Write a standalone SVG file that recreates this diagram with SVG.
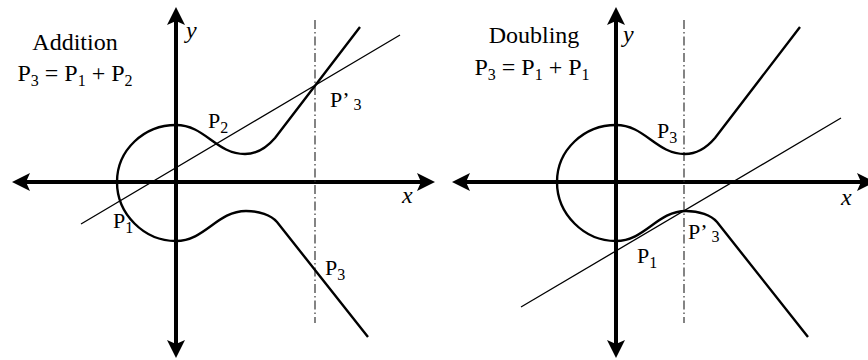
<svg xmlns="http://www.w3.org/2000/svg" xmlns:xlink="http://www.w3.org/1999/xlink" width="868" height="360" viewBox="0 0 868 360">
<style>
.axis{stroke:#000;stroke-width:4;fill:none;marker-start:url(#ah);marker-end:url(#ah)}
.curve{stroke:#000;stroke-width:2.4;fill:none;stroke-linejoin:round}
.line{stroke:#000;stroke-width:1.3;fill:none}
.dd{stroke:#333;stroke-width:1.2;fill:none;stroke-dasharray:9 3 1.5 3}
.title{font-size:24px;text-anchor:middle}
.lab{font-size:22px}
.var{font-size:24px;font-style:italic}
.sub{font-size:16px}
</style>
<defs>
<marker id="ah" viewBox="0 -10 19 20" refX="4" refY="0" markerWidth="19" markerHeight="20" markerUnits="userSpaceOnUse" orient="auto-start-reverse">
<path d="M18,0 L0,-9 L4,0 L0,9 Z" fill="#000"/>
</marker>
<path id="curve" d="M117,182 C117,150 144,125 176,125 C205,125 216,154 245,154 C258,154 269,145 275,138 L360,27 M117,182 C117,214 144,241 176,241 C205,241 217,211 246,211 C259,211 271,215 277,222 L368,337"/>
</defs>

<g id="addition" font-family="'Liberation Serif', 'DejaVu Serif', serif" fill="#000">
<line class="axis" x1="176" y1="344" x2="176" y2="21"/>
<line class="axis" x1="421" y1="182" x2="26" y2="182"/>
<line class="dd" x1="315" y1="20" x2="315" y2="323"/>
<use href="#curve" class="curve"/>
<line class="line" x1="81" y1="224" x2="400" y2="35"/>
<text class="title" x="75" y="50">Addition</text>
<text class="title" x="75" y="81">P<tspan class="sub" dy="5">3</tspan><tspan dy="-5"> = P</tspan><tspan class="sub" dy="5">1</tspan><tspan dy="-5"> + P</tspan><tspan class="sub" dy="5">2</tspan></text>
<text class="var" x="186" y="38">y</text>
<text class="var" x="402" y="203">x</text>
<text class="lab" x="208" y="128">P<tspan class="sub" dy="5">2</tspan></text>
<text class="lab" x="330" y="107">P’<tspan class="sub" dx="4" dy="3">3</tspan></text>
<text class="lab" x="113" y="228">P<tspan class="sub" dy="5">1</tspan></text>
<text class="lab" x="325" y="275">P<tspan class="sub" dy="5">3</tspan></text>
</g>

<g id="doubling" font-family="'Liberation Serif', 'DejaVu Serif', serif" fill="#000">
<line class="axis" x1="616" y1="344" x2="616" y2="21"/>
<line class="axis" x1="861" y1="182" x2="466" y2="182"/>
<line class="dd" x1="684" y1="20" x2="684" y2="323"/>
<use href="#curve" class="curve" x="440"/>
<line class="line" x1="521" y1="307" x2="841" y2="118"/>
<text class="title" x="534" y="43">Doubling</text>
<text class="title" x="532" y="75">P<tspan class="sub" dy="5">3</tspan><tspan dy="-5"> = P</tspan><tspan class="sub" dy="5">1</tspan><tspan dy="-5"> + P</tspan><tspan class="sub" dy="5">1</tspan></text>
<text class="var" x="623" y="42">y</text>
<text class="var" x="841" y="205">x</text>
<text class="lab" x="657" y="138">P<tspan class="sub" dy="5">3</tspan></text>
<text class="lab" x="688" y="239">P’<tspan class="sub" dx="4" dy="3">3</tspan></text>
<text class="lab" x="637" y="263">P<tspan class="sub" dy="5">1</tspan></text>
</g>
</svg>
